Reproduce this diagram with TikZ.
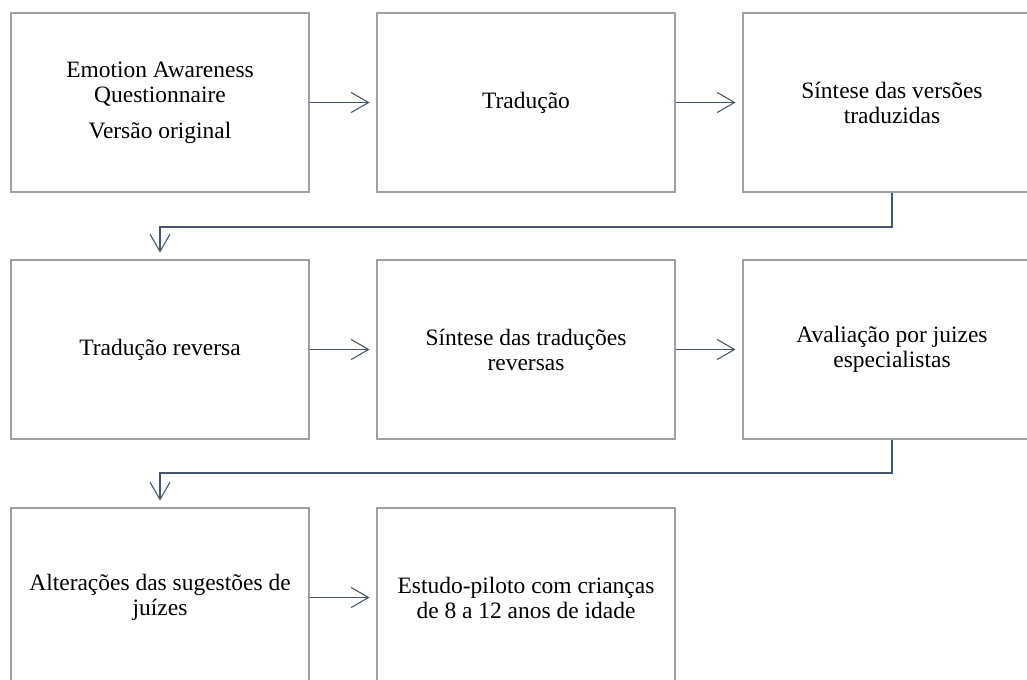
\documentclass[tikz,border=0pt]{standalone}
\usepackage{fontspec}
\setmainfont{Liberation Serif}
\usetikzlibrary{arrows.meta,calc}
\definecolor{boxgray}{RGB}{160,160,160}
\definecolor{arrblue}{RGB}{68,84,106}
\begin{document}
\begin{tikzpicture}[x=0.75pt,y=-0.75pt,
  stepbox/.style={draw=boxgray,line width=1.1pt,minimum width=223.5pt,minimum height=134.25pt,inner sep=0pt,align=center,font=\fontsize{17.6}{18.75}\selectfont},
  arr/.style={draw=arrblue,line width=0.8pt,-{Straight Barb[length=13pt,width=15pt,line width=0.8pt]},shorten >=5pt}]
\useasboundingbox (0,0) rectangle (1027,680);
\node[stepbox] (b11) at (160,102.5) {Emotion Awareness\\Questionnaire\\[8.5pt]Versão original};
\node[stepbox] (b12) at (526,102.5) {Tradução};
\node[stepbox] (b13) at (892,102.5) {Síntese das versões\\traduzidas};
\node[stepbox] (b21) at (160,349.5) {Tradução reversa};
\node[stepbox] (b22) at (526,349.5) {Síntese das traduções\\reversas};
\node[stepbox] (b23) at (892,349.5) {Avaliação por juizes\\especialistas};
\node[stepbox] (b31) at (160,597.5) {Alterações das sugestões de\\juízes};
\node[stepbox] (b32) at (526,597.5) {Estudo-piloto com crianças\\de 8 a 12 anos de idade};
\coordinate (c1) at (0,227);
\coordinate (c2) at (0,473);
\draw[arr] (b11) -- (b12);
\draw[arr] (b12) -- (b13);
\draw[arr] (b13.south) -- (b13.south |- c1) -| (b21.north);
\draw[arr] (b21) -- (b22);
\draw[arr] (b22) -- (b23);
\draw[arr] (b23.south) -- (b23.south |- c2) -| (b31.north);
\draw[arr] (b31) -- (b32);
\end{tikzpicture}
\end{document}
